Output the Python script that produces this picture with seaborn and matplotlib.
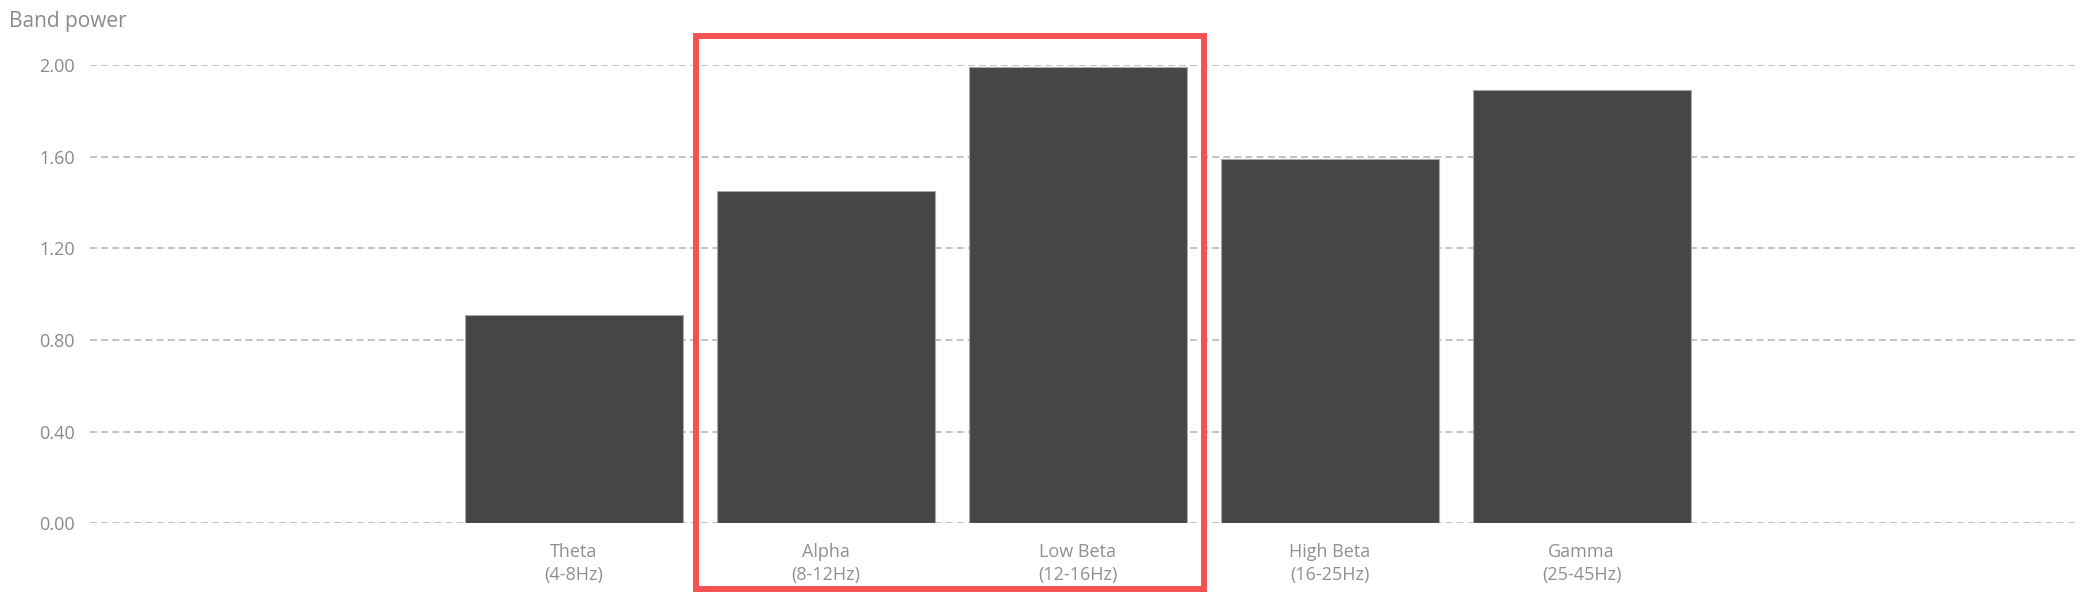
import matplotlib
matplotlib.use("Agg")
import matplotlib.pyplot as plt
import matplotlib.transforms as mtransforms
from matplotlib.patches import Rectangle
import seaborn as sns
import pandas as pd

# ---- data ----
bands = ["Theta\n(4-8Hz)", "Alpha\n(8-12Hz)", "Low Beta\n(12-16Hz)",
         "High Beta\n(16-25Hz)", "Gamma\n(25-45Hz)"]
power = [0.91, 1.45, 1.99, 1.59, 1.89]
y_ticks = [0.0, 0.4, 0.8, 1.2, 1.6, 2.0]
highlighted = ["Alpha\n(8-12Hz)", "Low Beta\n(12-16Hz)"]
y_title = "Band power"

sns.set_theme(style="white")
plt.rcParams['font.family'] = ['Open Sans', 'DejaVu Sans']
plt.rcParams['lines.scale_dashes'] = False

W, H = 2080, 596
fig = plt.figure(figsize=(W / 100, H / 100), dpi=100)
ax_left, ax_right, ax_top, ax_bot = 90, 2078, 65, 523.3
ax = fig.add_axes([ax_left / W, 1 - ax_bot / H, (ax_right - ax_left) / W, (ax_bot - ax_top) / H])

df = pd.DataFrame({"band": bands, "power": power})
sns.barplot(data=df, x="band", y="power", order=bands, color="#464646",
            saturation=1, width=0.865, edgecolor="#a8a8a8", linewidth=0.8,
            ax=ax, zorder=3)

ax.set_xlim(-1.92, 5.97)
ax.set_ylim(0, 2.0)
ax.set_yticks(y_ticks)
ax.set_yticklabels([f"{v:.2f}" for v in y_ticks])
ax.yaxis.grid(True, color="#b8b8b8", linestyle=(0, (5, 3)), linewidth=1.2, zorder=1)
ax.xaxis.grid(False)
ax.set_axisbelow(True)
for s in ax.spines.values():
    s.set_visible(False)
ax.set_xlabel("")
ax.set_ylabel("")
ax.tick_params(axis="y", length=0, pad=11, labelsize=13, labelcolor="#8a8a8a")
ax.tick_params(axis="x", length=0, pad=14, labelsize=13, labelcolor="#909090")
for lbl in ax.get_xticklabels():
    lbl.set_linespacing(1.35)

fig.text(9 / W, 1 - 22 / H, y_title, ha="left", va="center", fontsize=15, color="#8a8a8a")

# highlight box around selected bands
i0 = bands.index(highlighted[0])
i1 = bands.index(highlighted[-1])
trans = mtransforms.blended_transform_factory(ax.transData, fig.transFigure)
x0, x1 = i0 - 0.515, i1 + 0.5
y0, y1 = 1 - 589 / H, 1 - 36 / H
rect = Rectangle((x0, y0), x1 - x0, y1 - y0, transform=trans, fill=False,
                 edgecolor="#f45252", linewidth=4.3, clip_on=False, zorder=10)
ax.add_patch(rect)

fig.savefig("out.png", dpi=100, facecolor="white")
